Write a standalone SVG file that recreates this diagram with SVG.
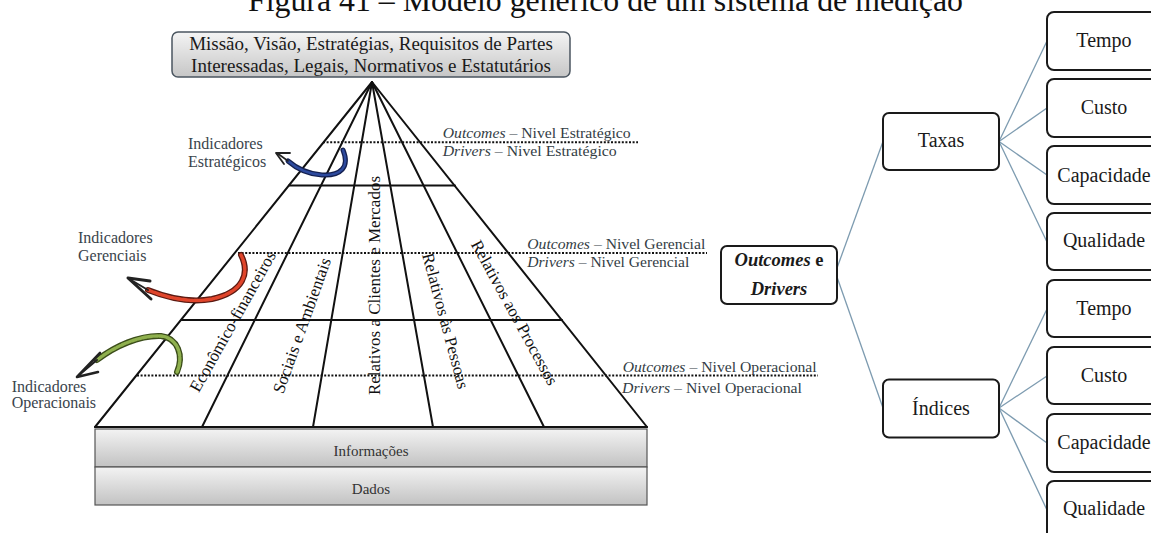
<svg xmlns="http://www.w3.org/2000/svg" width="1151" height="533" viewBox="0 0 1151 533">
  <defs>
    <linearGradient id="gGray" x1="0" y1="0" x2="0" y2="1">
      <stop offset="0" stop-color="#f3f3f3"/>
      <stop offset="1" stop-color="#c2c2c2"/>
    </linearGradient>
    <linearGradient id="gMission" x1="0" y1="0" x2="0" y2="1">
      <stop offset="0" stop-color="#f4f4f4"/>
      <stop offset="1" stop-color="#c6c6c6"/>
    </linearGradient>
  </defs>
  <style>
    text { font-family: "Liberation Serif", "Times New Roman", serif; }
    .edge { stroke: #111; stroke-width: 2; fill: none; stroke-linecap: round; }
    .dot { stroke: #111; stroke-width: 2; stroke-dasharray: 2 1.6; fill: none; }
    .lvl { font-size: 15.5px; fill: #333d45; }
    .ind { font-size: 16px; fill: #3a444c; }
    .col { font-size: 17px; fill: #111; text-anchor: middle; }
    .box { fill: #fff; stroke: #1a1a1a; stroke-width: 2; }
    .lbl { font-size: 20px; fill: #1a1a1a; text-anchor: middle; }
    .link { stroke: #7d9bb0; stroke-width: 1.3; fill: none; }
    .layer { fill: url(#gGray); stroke: #555; stroke-width: 1.2; }
    .head { fill: none; stroke: #222; stroke-linecap: round; stroke-linejoin: round; }
  </style>

  <rect width="1151" height="533" fill="#fff"/>

  <!-- caption -->
  <text x="248" y="11" font-size="31.5" fill="#111" textLength="715" lengthAdjust="spacingAndGlyphs">Figura 41 – Modelo genérico de um sistema de medição</text>

  <!-- top source box -->
  <g id="mission">
    <rect x="172" y="32" width="398" height="45" rx="6" fill="url(#gMission)" stroke="#4b5660" stroke-width="1.5"/>
    <text x="371" y="49.5" font-size="19" fill="#1a1a1a" text-anchor="middle">Missão, Visão, Estratégias, Requisitos de Partes</text>
    <text x="371" y="71.5" font-size="19" fill="#1a1a1a" text-anchor="middle">Interessadas, Legais, Normativos e Estatutários</text>
  </g>

  <!-- pyramid frame -->
  <g id="pyramid">
    <line class="edge" x1="372" y1="82" x2="95" y2="427"/>
    <line class="edge" x1="372" y1="82" x2="202" y2="427"/>
    <line class="edge" x1="372" y1="82" x2="313" y2="427"/>
    <line class="edge" x1="372" y1="82" x2="433" y2="427"/>
    <line class="edge" x1="372" y1="82" x2="544" y2="427"/>
    <line class="edge" x1="372" y1="82" x2="647" y2="427"/>
    <line class="edge" x1="289" y1="185.5" x2="455" y2="185.5"/>
    <line class="edge" x1="181.5" y1="320" x2="562" y2="320"/>
    <line class="edge" x1="95" y1="427" x2="647" y2="427"/>
    <line class="dot" x1="323" y1="142.3" x2="638" y2="142.3"/>
    <line class="dot" x1="238" y1="253" x2="707" y2="253"/>
    <line class="dot" x1="137" y1="375.5" x2="818" y2="375.5"/>
  </g>

  <!-- column names -->
  <g id="columns">
    <text class="col" transform="translate(233.3,321.7) rotate(-60.7)" y="5">Econômico-financeiros</text>
    <text class="col" transform="translate(302.5,325.8) rotate(-70.3)" y="5">Sociais e Ambientais</text>
    <text class="col" transform="translate(374.5,285.5) rotate(-90)" y="5">Relativos a Clientes e Mercados</text>
    <text class="col" transform="translate(445,321) rotate(75)" y="5">Relativos às Pessoas</text>
    <text class="col" transform="translate(514,313) rotate(61.3)" y="5">Relativos aos Processos</text>
  </g>

  <!-- level captions -->
  <g id="levels">
    <text class="lvl" x="442.7" y="137.5" textLength="188" lengthAdjust="spacingAndGlyphs"><tspan font-style="italic">Outcomes</tspan> – Nivel Estratégico</text>
    <text class="lvl" x="442.7" y="156" textLength="174" lengthAdjust="spacingAndGlyphs"><tspan font-style="italic">Drivers</tspan> – Nivel Estratégico</text>
    <text class="lvl" x="527.3" y="248.5" textLength="178" lengthAdjust="spacingAndGlyphs"><tspan font-style="italic">Outcomes</tspan> – Nivel Gerencial</text>
    <text class="lvl" x="527.3" y="267" textLength="162" lengthAdjust="spacingAndGlyphs"><tspan font-style="italic">Drivers</tspan> – Nivel Gerencial</text>
    <text class="lvl" x="622.7" y="371.5" textLength="194" lengthAdjust="spacingAndGlyphs"><tspan font-style="italic">Outcomes</tspan> – Nivel Operacional</text>
    <text class="lvl" x="622" y="392.5" textLength="180" lengthAdjust="spacingAndGlyphs"><tspan font-style="italic">Drivers</tspan> – Nivel Operacional</text>
  </g>

  <!-- indicator arrows -->
  <g id="ind-estrategicos">
    <path d="M343,150 C350,167 341,176 322,175 C307,174 296,168 288,161" fill="none" stroke="#142050" stroke-width="5" stroke-linecap="round"/>
    <path d="M343,150 C350,167 341,176 322,175 C307,174 296,168 288,161" fill="none" stroke="#2d4a9e" stroke-width="2.4" stroke-linecap="round"/>
    <path class="head" d="M288,161 L277,153" stroke-width="1.6"/>
    <path class="head" d="M290,153 L276,153 L284,164" stroke-width="1.8"/>
    <text class="ind" x="188" y="149">Indicadores</text>
    <text class="ind" x="188" y="167.3">Estratégicos</text>
  </g>

  <g id="ind-gerenciais">
    <path d="M241,255 C250,273 244,292 212,299 C190,303 168,298 148,290" fill="none" stroke="#5c1a12" stroke-width="6" stroke-linecap="round"/>
    <path d="M241,255 C250,273 244,292 212,299 C190,303 168,298 148,290" fill="none" stroke="#e0452b" stroke-width="3.4" stroke-linecap="round" stroke-dasharray="4 1.5"/>
    <path class="head" d="M148,290 L131,280" stroke-width="2"/>
    <path class="head" d="M150,281 L128,278 L151,299" stroke-width="3"/>
    <text class="ind" x="78" y="243.3">Indicadores</text>
    <text class="ind" x="78" y="261">Gerenciais</text>
  </g>

  <g id="ind-operacionais">
    <path d="M177,372 C184,356 178,338 161,336 C140,335 115,346 97,360" fill="none" stroke="#3b4d1a" stroke-width="6" stroke-linecap="round"/>
    <path d="M177,372 C184,356 178,338 161,336 C140,335 115,346 97,360" fill="none" stroke="#8fb04e" stroke-width="3.4" stroke-linecap="round" stroke-dasharray="4 1.5"/>
    <path class="head" d="M97,360 L79,375" stroke-width="2"/>
    <path class="head" d="M100,353 L77,377 L98,372" stroke-width="2.6"/>
    <text class="ind" x="11.7" y="391.7">Indicadores</text>
    <text class="ind" x="11.7" y="408.3">Operacionais</text>
  </g>

  <!-- base layers -->
  <g id="informacoes">
    <rect class="layer" x="95" y="429" width="552" height="38"/>
    <text x="371" y="456" font-size="15" fill="#333" text-anchor="middle">Informações</text>
  </g>
  <g id="dados">
    <rect class="layer" x="95" y="467" width="552" height="38"/>
    <text x="371" y="493.5" font-size="15" fill="#333" text-anchor="middle">Dados</text>
  </g>

  <!-- tree connectors -->
  <g id="connectors">
    <line class="link" x1="837" y1="268" x2="883" y2="141.5"/>
    <line class="link" x1="837" y1="277" x2="883" y2="408"/>
    <line class="link" x1="999" y1="141.5" x2="1047" y2="41"/>
    <line class="link" x1="999" y1="141.5" x2="1047" y2="108"/>
    <line class="link" x1="999" y1="141.5" x2="1047" y2="175"/>
    <line class="link" x1="999" y1="141.5" x2="1047" y2="242"/>
    <line class="link" x1="999" y1="408" x2="1047" y2="309"/>
    <line class="link" x1="999" y1="408" x2="1047" y2="376"/>
    <line class="link" x1="999" y1="408" x2="1047" y2="443"/>
    <line class="link" x1="999" y1="408" x2="1047" y2="510"/>
  </g>

  <!-- tree nodes -->
  <g id="outcomes-drivers">
    <rect class="box" x="721" y="246" width="116" height="58" rx="6"/>
    <text x="779" y="266" font-size="18.5" font-weight="bold" fill="#1a1a1a" text-anchor="middle"><tspan font-style="italic">Outcomes</tspan> e</text>
    <text x="779" y="295" font-size="18.5" font-weight="bold" font-style="italic" fill="#1a1a1a" text-anchor="middle">Drivers</text>
  </g>

  <g id="taxas">
    <rect class="box" x="883" y="113" width="116" height="57" rx="6"/>
    <text class="lbl" x="941" y="147" font-size="18">Taxas</text>
  </g>
  <g id="indices">
    <rect class="box" x="883" y="379.5" width="116" height="58" rx="6"/>
    <text class="lbl" x="941" y="415">Índices</text>
  </g>

  <g id="taxas-tempo">
    <rect class="box" x="1047" y="12" width="114" height="58" rx="7"/>
    <text class="lbl" x="1104" y="47">Tempo</text>
  </g>
  <g id="taxas-custo">
    <rect class="box" x="1047" y="79" width="114" height="58" rx="7"/>
    <text class="lbl" x="1104" y="113.5">Custo</text>
  </g>
  <g id="taxas-capacidade">
    <rect class="box" x="1047" y="146" width="114" height="58" rx="7"/>
    <text class="lbl" x="1104" y="181.5">Capacidade</text>
  </g>
  <g id="taxas-qualidade">
    <rect class="box" x="1047" y="213" width="114" height="57" rx="7"/>
    <text class="lbl" x="1104" y="247">Qualidade</text>
  </g>

  <g id="indices-tempo">
    <rect class="box" x="1047" y="280" width="114" height="57" rx="7"/>
    <text class="lbl" x="1104" y="314.5">Tempo</text>
  </g>
  <g id="indices-custo">
    <rect class="box" x="1047" y="347" width="114" height="57" rx="7"/>
    <text class="lbl" x="1104" y="381.5">Custo</text>
  </g>
  <g id="indices-capacidade">
    <rect class="box" x="1047" y="414" width="114" height="58" rx="7"/>
    <text class="lbl" x="1104" y="448.5">Capacidade</text>
  </g>
  <g id="indices-qualidade">
    <rect class="box" x="1047" y="481" width="114" height="60" rx="7"/>
    <text class="lbl" x="1104" y="515">Qualidade</text>
  </g>
</svg>
